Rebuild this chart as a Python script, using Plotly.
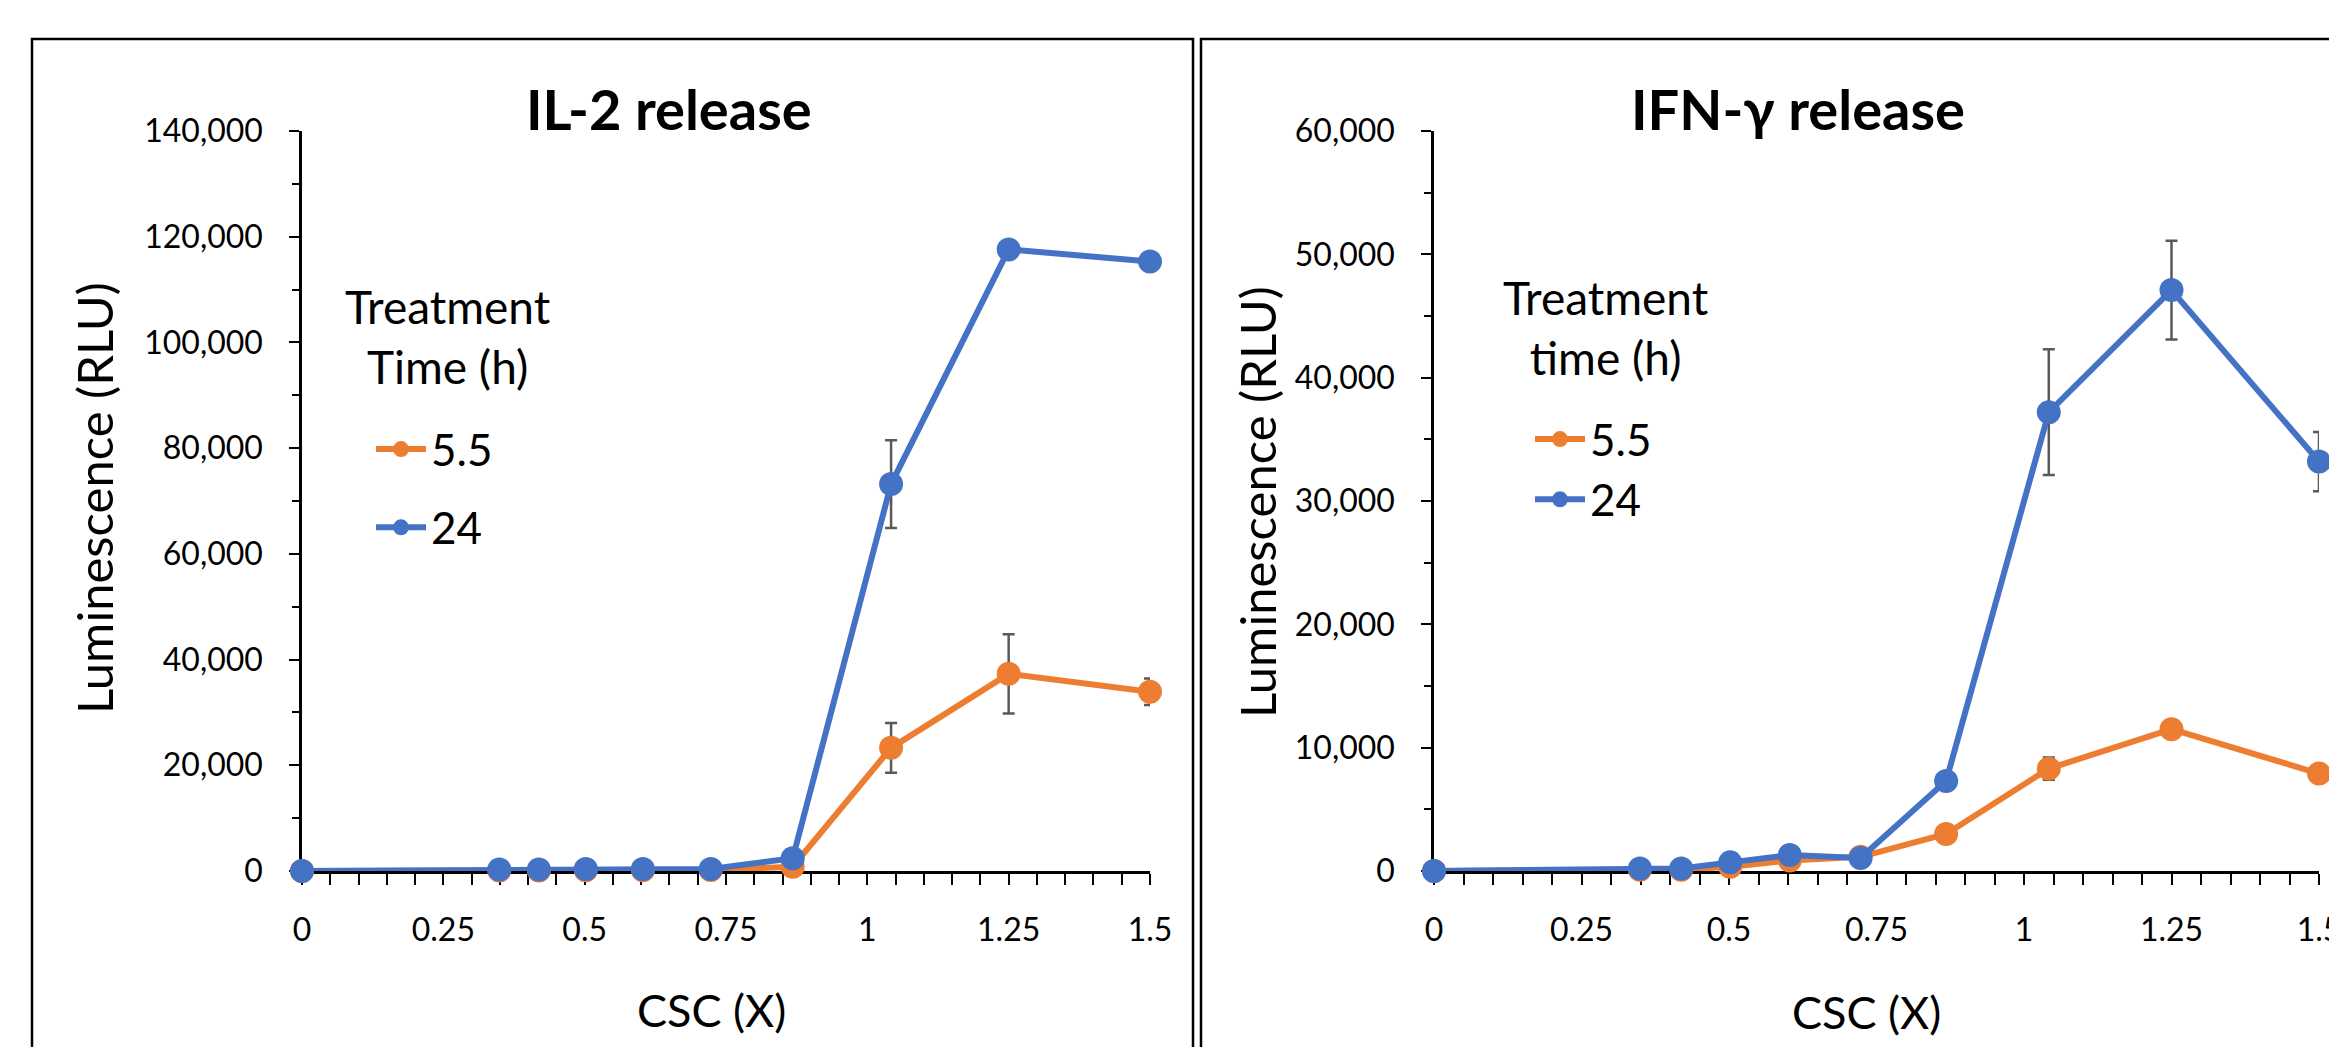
import plotly.graph_objects as go

# ---------------- data ----------------
csc = [0, 0.349, 0.419, 0.502, 0.603, 0.723, 0.868, 1.042, 1.25, 1.5]

il2_5h = [0, 100, 100, 150, 150, 200, 800, 23300, 37300, 33900]
il2_5h_err = [0, 0, 0, 0, 0, 0, 0, 4700, 7500, 2500]
il2_24h = [0, 300, 300, 400, 400, 400, 2400, 73200, 117600, 115300]
il2_24h_err = [0, 0, 0, 0, 0, 0, 0, 8300, 0, 0]

ifn_5h = [0, 100, 100, 350, 850, 1150, 3000, 8300, 11500, 7900]
ifn_5h_err = [0, 0, 0, 0, 0, 0, 0, 900, 0, 0]
ifn_24h = [0, 200, 200, 700, 1300, 1050, 7300, 37200, 47100, 33200]
ifn_24h_err = [0, 0, 0, 0, 0, 0, 0, 5100, 4000, 2400]

series_names = ["5.5", "24"]

x_tickvals = [0, 0.25, 0.5, 0.75, 1, 1.25, 1.5]
x_ticktext = ["0", "0.25", "0.5", "0.75", "1", "1.25", "1.5"]
il2_tickvals = [0, 20000, 40000, 60000, 80000, 100000, 120000, 140000]
il2_ticktext = ["0", "20,000", "40,000", "60,000", "80,000", "100,000", "120,000", "140,000"]
ifn_tickvals = [0, 10000, 20000, 30000, 40000, 50000, 60000]
ifn_ticktext = ["0", "10,000", "20,000", "30,000", "40,000", "50,000", "60,000"]

titles = ["IL-2 release", "IFN-\u03b3 release"]
legend_titles = ["Treatment<br>Time (h)", "Treatment<br>time (h)"]
y_title = "Luminescence (RLU)"
x_title = "CSC (X)"

# ---------------- style ----------------
W, H = 2329, 1047
FONT = "Lato"
TXT = "#000000"
ORANGE = "#ED7D31"
BLUE = "#4472C4"
ERR = "#595959"


def px(x):
    return x / W


def py(y):
    return 1 - y / H


fig = go.Figure()


def add_series(xa, ya, y, err, color, name, legend, group):
    fig.add_trace(go.Scatter(
        x=csc, y=y, name=name, mode="lines+markers",
        xaxis=xa, yaxis=ya, legend=legend, legendgroup=group,
        line=dict(color=color, width=6),
        marker=dict(size=24, color=color, line=dict(width=0)),
        error_y=dict(type="data", array=err, visible=True, color=ERR,
                     thickness=2.5, width=6),
        cliponaxis=False, hoverinfo="skip",
    ))


add_series("x", "y", il2_5h, il2_5h_err, ORANGE, series_names[0], "legend", "a")
add_series("x", "y", il2_24h, il2_24h_err, BLUE, series_names[1], "legend", "b")
add_series("x2", "y2", ifn_5h, ifn_5h_err, ORANGE, series_names[0], "legend2", "c")
add_series("x2", "y2", ifn_24h, ifn_24h_err, BLUE, series_names[1], "legend2", "d")

tickfont = dict(family=FONT, size=32, color=TXT)


def xaxis(domain, anchor):
    return dict(
        domain=domain, anchor=anchor, range=[0, 1.5], automargin=False,
        tickmode="array", tickvals=x_tickvals, ticktext=x_ticktext,
        showline=True, linecolor="black", linewidth=2.5,
        ticks="outside", ticklen=11, tickwidth=2, tickcolor="black",
        minor=dict(tickmode="linear", tick0=0, dtick=0.05, ticks="outside",
                   ticklen=11, tickwidth=2, tickcolor="black", showgrid=False),
        showgrid=False, zeroline=False, tickfont=tickfont,
        ticklabelstandoff=18, ticklabeloverflow="allow",
        layer="below traces", fixedrange=True,
    )


def yaxis(domain, anchor, rng, tv, tt, minor):
    return dict(
        domain=domain, anchor=anchor, range=rng, automargin=False,
        tickmode="array", tickvals=tv, ticktext=tt,
        showline=True, linecolor="black", linewidth=2.5,
        ticks="outside", ticklen=10, tickwidth=2, tickcolor="black",
        minor=dict(tickmode="linear", tick0=0, dtick=minor, ticks="outside",
                   ticklen=7, tickwidth=2, tickcolor="black", showgrid=False),
        showgrid=False, zeroline=False, tickfont=tickfont,
        ticklabelstandoff=20, ticklabeloverflow="allow",
        layer="below traces", fixedrange=True,
    )


ydom = [py(871), py(131)]
fig.update_layout(
    template="none",
    width=W, height=H, autosize=False,
    margin=dict(l=0, r=0, t=0, b=0, pad=0, autoexpand=False),
    paper_bgcolor="white", plot_bgcolor="rgba(0,0,0,0)",
    font=dict(family=FONT, color=TXT),
    xaxis=xaxis([px(302), px(1150)], "y"),
    yaxis=yaxis(ydom, "x", [0, 140000], il2_tickvals, il2_ticktext, 10000),
    xaxis2=xaxis([px(1434), px(2319)], "y2"),
    yaxis2=yaxis(ydom, "x2", [0, 60000], ifn_tickvals, ifn_ticktext, 5000),
    legend=dict(x=px(371), y=py(414), xanchor="left", yanchor="top",
                font=dict(family=FONT, size=44, color=TXT), itemwidth=50,
                bgcolor="rgba(0,0,0,0)", tracegroupgap=18, itemclick=False),
    legend2=dict(x=px(1530), y=py(404), xanchor="left", yanchor="top",
                 font=dict(family=FONT, size=44, color=TXT), itemwidth=50,
                 bgcolor="rgba(0,0,0,0)", tracegroupgap=0, itemclick=False),
    showlegend=True,
)

# panel borders (cropped screenshot frames)
fig.add_shape(type="rect", xref="paper", yref="paper",
              x0=px(32), x1=px(1193), y0=-0.2, y1=py(39),
              line=dict(color="black", width=2.5), layer="above")
fig.add_shape(type="rect", xref="paper", yref="paper",
              x0=px(1201), x1=1.2, y0=-0.2, y1=py(39),
              line=dict(color="black", width=2.5), layer="above")

ann = []
# chart titles
ann.append(dict(text="<b>%s</b>" % titles[0], x=px(669), y=py(109)))
ann.append(dict(text="<b>%s</b>" % titles[1], x=px(1798), y=py(109)))
for a in ann:
    a.update(xref="paper", yref="paper", xanchor="center", yanchor="middle",
             showarrow=False, font=dict(family=FONT, size=56, color=TXT))

more = [
    dict(text=y_title, x=px(94), y=py(498), textangle=-90,
         font=dict(family=FONT, size=49, color=TXT)),
    dict(text=y_title, x=px(1257), y=py(502), textangle=-90,
         font=dict(family=FONT, size=49, color=TXT)),
    dict(text=x_title, x=px(711), y=py(1010),
         font=dict(family=FONT, size=45, color=TXT)),
    dict(text=x_title, x=px(1866), y=py(1012),
         font=dict(family=FONT, size=45, color=TXT)),
    dict(text=legend_titles[0], x=px(448), y=py(336),
         font=dict(family=FONT, size=46, color=TXT)),
    dict(text=legend_titles[1], x=px(1606), y=py(327),
         font=dict(family=FONT, size=46, color=TXT)),
]
for a in more:
    a.update(xref="paper", yref="paper", xanchor="center", yanchor="middle",
             showarrow=False)
ann.extend(more)
fig.update_layout(annotations=ann)

fig.write_html("out.html")
